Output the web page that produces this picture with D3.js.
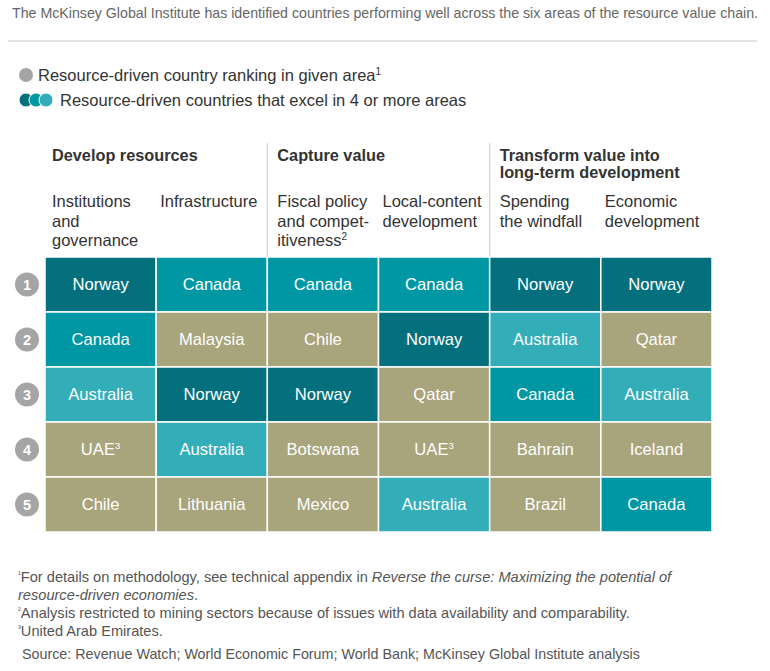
<!DOCTYPE html>
<html>
<head>
<meta charset="utf-8">
<script src="https://cdn.jsdelivr.net/npm/d3@7"></script>
<style>
  body { margin: 0; background: #fff; }
  svg text { font-family: "Liberation Sans", Arial, sans-serif; }
</style>
</head>
<body>
<div id="chart"></div>
<script>
// data
var groups = [
    { name: ["Develop resources"], start: 0 },
    { name: ["Capture value"], start: 2 },
    { name: ["Transform value into", "long-term development"], start: 4 }
]
var areas = [
    ["Institutions", "and", "governance"],
    ["Infrastructure"],
    ["Fiscal policy", "and compet-", "itiveness²"],
    ["Local-content", "development"],
    ["Spending", "the windfall"],
    ["Economic", "development"]
]
var ranks = [1, 2, 3, 4, 5]
var colInstitutions = ["Norway", "Canada", "Australia", "UAE³", "Chile"]
var colInfrastructure = ["Canada", "Malaysia", "Norway", "Australia", "Lithuania"]
var colFiscal = ["Canada", "Chile", "Norway", "Botswana", "Mexico"]
var colLocal = ["Canada", "Norway", "Qatar", "UAE³", "Australia"]
var colSpending = ["Norway", "Australia", "Canada", "Bahrain", "Brazil"]
var colEconomic = ["Norway", "Qatar", "Australia", "Iceland", "Canada"]
var columns = [colInstitutions, colInfrastructure, colFiscal, colLocal, colSpending, colEconomic]

var excelCountries = ["Norway", "Canada", "Australia"]
var excelColors = ["#04707e", "#0097a5", "#33adb8"]
var otherColor = "#a8a47c"

var footnotes = [
    [{ t: "¹", sup: true }, { t: "For details on methodology, see technical appendix in " }, { t: "Reverse the curse: Maximizing the potential of", it: true }],
    [{ t: " resource-driven economies", it: true }, { t: "." }],
    [{ t: "²", sup: true }, { t: "Analysis restricted to mining sectors because of issues with data availability and comparability." }],
    [{ t: "³", sup: true }, { t: "United Arab Emirates." }]
]
var sourceText = "Source: Revenue Watch; World Economic Forum; World Bank; McKinsey Global Institute analysis"

var width = 770, height = 671

var svg = d3.select("#chart")
    .append("svg")
        .attr("width", width)
        .attr("height", height)

var color = d3.scaleOrdinal()
    .domain(excelCountries)
    .range(excelColors)
    .unknown(otherColor)

var x = d3.scaleBand()
    .domain(d3.range(areas.length))
    .range([45, 712])

var y = d3.scaleBand()
    .domain(ranks)
    .range([257, 532])

// title + rule
svg.append("text")
    .attr("x", 12)
    .attr("y", 18)
    .attr("fill", "#666")
    .attr("font-size", "14.2px")
    .text("The McKinsey Global Institute has identified countries performing well across the six areas of the resource value chain.")

svg.append("line")
    .attr("x1", 8).attr("x2", 757)
    .attr("y1", 41).attr("y2", 41)
    .attr("stroke", "#e3e3e3")
    .attr("stroke-width", 2)

// legend
var legend = svg.append("g")
legend.append("circle")
    .attr("cx", 26).attr("cy", 75).attr("r", 7)
    .attr("fill", "#a5a5a5")
legend.append("text")
    .attr("x", 38).attr("y", 81)
    .attr("font-size", "16.5px")
    .attr("fill", "#333")
    .text("Resource-driven country ranking in given area")
    .append("tspan")
        .attr("font-size", "10px")
        .attr("dy", -6)
        .text("1")

legend.selectAll(".excel-dot")
    .data(excelCountries)
    .enter()
        .append("circle")
        .attr("class", "excel-dot")
        .attr("cx", (d, i) => 26 + i * 10)
        .attr("cy", 100)
        .attr("r", 7)
        .attr("fill", d => color(d))
        .attr("stroke", "#fff")
        .attr("stroke-width", 1)
legend.append("text")
    .attr("x", 60).attr("y", 106)
    .attr("font-size", "16.5px")
    .attr("fill", "#333")
    .text("Resource-driven countries that excel in 4 or more areas")

// column headers
var groupStarts = groups.map(g => g.start)
function textLeft(i){
    if (i == 0) return x(i) + 7
    return x(i) + (groupStarts.indexOf(i) >= 0 ? 10 : 4)
}

groups.forEach(function(g){
    var t = svg.append("text")
        .attr("x", textLeft(g.start))
        .attr("y", 161)
        .attr("font-size", "16.3px")
        .attr("font-weight", "bold")
        .attr("fill", "#333")
    g.name.forEach(function(line, k){
        t.append("tspan")
            .attr("x", textLeft(g.start))
            .attr("dy", k == 0 ? 0 : 17)
            .text(line)
    })
    if (g.start > 0) {
        svg.append("line")
            .attr("x1", x(g.start)).attr("x2", x(g.start))
            .attr("y1", 143).attr("y2", y(1))
            .attr("stroke", "#d9d9d9")
            .attr("stroke-width", 1.5)
    }
})

areas.forEach(function(lines, i){
    var t = svg.append("text")
        .attr("x", textLeft(i))
        .attr("y", 207)
        .attr("font-size", "16.5px")
        .attr("fill", "#333")
    lines.forEach(function(line, k){
        var sp = t.append("tspan")
            .attr("x", textLeft(i))
            .attr("dy", k == 0 ? 0 : 19.5)
        var m = line.match(/^(.*?)([²³]?)$/)
        sp.text(m[1])
        if (m[2]) {
            t.append("tspan")
                .attr("font-size", "10px")
                .attr("dy", -6)
                .text(m[2] == "²" ? "2" : "3")
        }
    })
})

// cells
var cells = []
columns.forEach(function(col, i){
    col.forEach(function(country, r){
        cells.push({ col: i, rank: ranks[r], country: country })
    })
})

var cell = svg.selectAll("g.cell")
    .data(cells)
    .enter()
        .append("g")
        .attr("class", "cell")
        .attr("transform", d => "translate(" + x(d.col) + "," + y(d.rank) + ")")

cell.append("rect")
    .attr("width", x.bandwidth())
    .attr("height", y.bandwidth())
    .attr("fill", d => color(d.country.replace(/[²³]/, "")))
    .attr("stroke", "#fff")
    .attr("stroke-width", 1.5)

var cellText = cell.append("text")
    .attr("x", x.bandwidth() / 2)
    .attr("y", y.bandwidth() / 2)
    .attr("dy", "0.34em")
    .attr("text-anchor", "middle")
    .attr("font-size", "16.6px")
    .attr("fill", "#fff")

cellText.append("tspan").text(d => d.country.replace(/[²³]/, ""))
cellText.filter(d => /³/.test(d.country))
    .append("tspan")
        .attr("font-size", "9.5px")
        .attr("dy", -6)
        .text("3")

// rank badges
var badge = svg.selectAll("g.badge")
    .data(ranks)
    .enter()
        .append("g")
        .attr("class", "badge")
        .attr("transform", d => "translate(27," + (y(d) + y.bandwidth() / 2) + ")")

badge.append("circle")
    .attr("r", 12)
    .attr("fill", "#a5a5a5")
badge.append("text")
    .attr("text-anchor", "middle")
    .attr("dy", "0.36em")
    .attr("font-size", "14.5px")
    .attr("font-weight", "bold")
    .attr("fill", "#fff")
    .text(d => d)

// footnotes
footnotes.forEach(function(parts, k){
    var t = svg.append("text")
        .attr("x", 18)
        .attr("y", 582 + k * 18)
        .attr("font-size", "14.6px")
        .attr("fill", "#555")
    parts.forEach(function(p){
        var sp = t.append("tspan").text(p.t)
        if (p.it) sp.attr("font-style", "italic")
        if (p.sup) sp.attr("font-size", "8.5px").attr("baseline-shift", "super")
    })
})

svg.append("text")
    .attr("x", 22)
    .attr("y", 659)
    .attr("font-size", "14.3px")
    .attr("fill", "#555")
    .text(sourceText)
</script>
</body>
</html>
